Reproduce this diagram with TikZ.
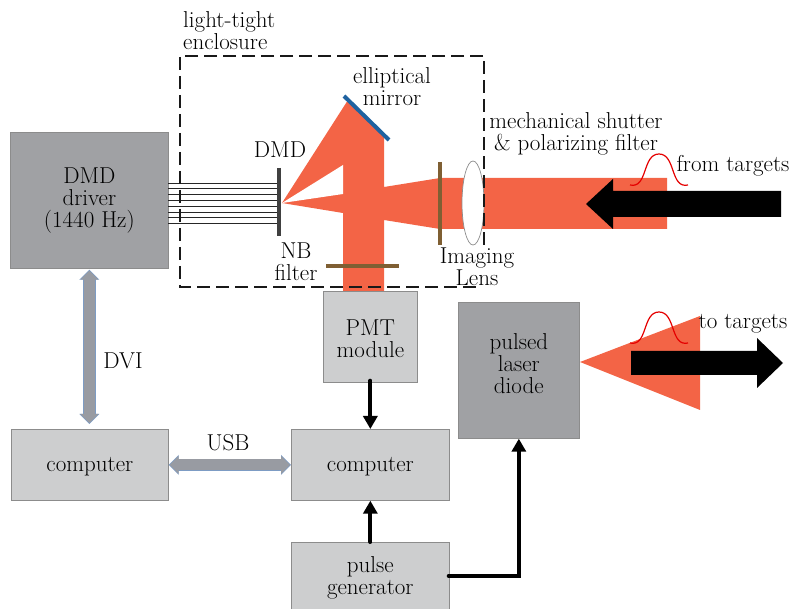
\documentclass[tikz,border=0pt]{standalone}
\usepackage{fontspec}
\usetikzlibrary{arrows.meta}
\definecolor{beam}{HTML}{F36446}
\definecolor{boxdark}{HTML}{A0A1A4}
\definecolor{boxlight}{HTML}{CDCECF}
\definecolor{brownf}{HTML}{7F5F33}
\definecolor{mirrorblue}{HTML}{1F62A0}
\definecolor{linkgray}{HTML}{989BA2}
\definecolor{linkedge}{HTML}{7D9CC4}
\tikzset{
  x=1pt,y=-1pt,
  txt/.style={font=\fontsize{23}{22}\selectfont,align=center,inner sep=0pt,text=black},
  darkbox/.style={txt,draw=black!45,line width=.7pt,fill=boxdark,anchor=north west},
  lightbox/.style={txt,draw=black!45,line width=.7pt,fill=boxlight,anchor=north west},
  conn/.style={draw=black,line width=4pt,line cap=round,-{Triangle[width=14pt,length=13pt]}},
  linkout/.style={draw=linkedge,line width=12.6pt,{Triangle[width=19.5pt,length=10pt]}-{Triangle[width=19.5pt,length=10pt]}},
  linkin/.style={draw=linkgray,line width=11pt,{Triangle[width=17.5pt,length=9pt]}-{Triangle[width=17.5pt,length=9pt]}},
  encl/.style={draw=black!90,line width=1.6pt,dash pattern=on 13pt off 6pt},
  pulse/.style={draw=red!90!black,line width=1.2pt},
  bigarrow/.style={fill=black},
}
\begin{document}
\begin{tikzpicture}
\useasboundingbox (0,0) rectangle (790,609);
% beams
\fill[beam] (282,203) -- (348,100) -- (384,137) -- (384,187) -- (440,178) -- (667,178) -- (667,229) -- (440,229) -- (384,220) -- (384,291) -- (343,291) -- (343,213) -- cycle;
\fill[white] (282,203) -- (343,165) -- (343,194) -- cycle;
\fill[beam] (580,362) -- (700,316) -- (700,410) -- cycle;
% boxes
\node[darkbox,minimum width=158pt,minimum height=136pt] (drv) at (10,132) {DMD\\driver\\(1440 Hz)};
\node[lightbox,minimum width=157pt,minimum height=71pt,label={[txt,yshift=-2pt]center:computer}] (cl) at (11,429) {};
\node[lightbox,minimum width=94pt,minimum height=91pt,label={[txt,yshift=-2pt]center:{PMT\\module}}] (pmt) at (323,291) {};
\node[lightbox,minimum width=158pt,minimum height=71pt,label={[txt,yshift=-2pt]center:computer}] (cm) at (291,429) {};
\node[lightbox,minimum width=158pt,minimum height=67pt,label={[txt,yshift=-2pt]center:{pulse\\generator}}] (pg) at (291,542) {};
\node[darkbox,minimum width=121pt,minimum height=136pt,label={[txt,yshift=7pt]center:{pulsed\\laser\\diode}}] (pld) at (458,302) {};
% DMD ribbon lines
\foreach \yy in {183,188,194,200,206,212,217,223}
  \draw[black!85,line width=.9pt] (168,\yy) -- (278,\yy);
% optics
\draw[black!75,line width=4pt] (279,168) -- (279,236);
\draw[mirrorblue,line width=4pt] (344,96) -- (389,140);
\draw[brownf,line width=4pt] (440,162) -- (440,245);
\draw[brownf,line width=4pt] (326,266.5) -- (399,266.5);
\draw[black!45,line width=.7pt,fill=white] (473,203) ellipse (11 and 42);
% enclosure
\draw[encl] (484,245) -- (484,56) -- (180,56) -- (180,287) -- (478,287);
% pulses
\draw[pulse] (630,185) .. controls (648,189) and (642,154) .. (659,154) .. controls (676,154) and (670,189) .. (688,185);
\draw[pulse] (630,343) .. controls (648,347) and (642,312) .. (659,312) .. controls (676,312) and (670,347) .. (688,343);
% big black arrows
\fill[bigarrow] (781,191) -- (613,191) -- (613,179) -- (586,204) -- (613,229) -- (613,217) -- (781,217) -- cycle;
\fill[bigarrow] (631,351) -- (757,351) -- (757,338) -- (783,363) -- (757,388) -- (757,375) -- (631,375) -- cycle;
% connectors
\draw[linkout,shorten <=1pt,shorten >=5pt] (drv.south) -- (drv.south |- cl.north);
\draw[linkin,shorten <=2pt,shorten >=6pt] (drv.south) -- (drv.south |- cl.north);
\draw[linkout] (cl.east) -- (cm.west);
\draw[linkin,shorten <=1pt,shorten >=1pt] (cl.east) -- (cm.west);
\draw[conn,shorten <=-2pt] (pmt) -- (cm);
\draw[conn] (pg) -- (cm);
\draw[conn] ([xshift=-1pt]pg.east |- 0,576) -| (pld.south);
% labels
\node[txt,anchor=west,align=left] (l1) at (183,31) {light-tight\\enclosure};
\node[txt] (l2) at (392,86.5) {elliptical\\mirror};
\node[txt] (l3) at (280,150) {DMD};
\node[txt] (l4) at (296,261.5) {NB\\filter};
\node[txt] (l5) at (477,266.5) {Imaging\\Lens};
\node[txt] (l6) at (576,133.5) {mechanical shutter\\\& polarizing filter};
\node[txt] (l7) at (733,166) {from targets};
\node[txt] (l8) at (743,324) {to targets};
\node[txt] (l9) at (123,361) {DVI};
\node[txt] (l10) at (228,443) {USB};
\end{tikzpicture}
\end{document}
